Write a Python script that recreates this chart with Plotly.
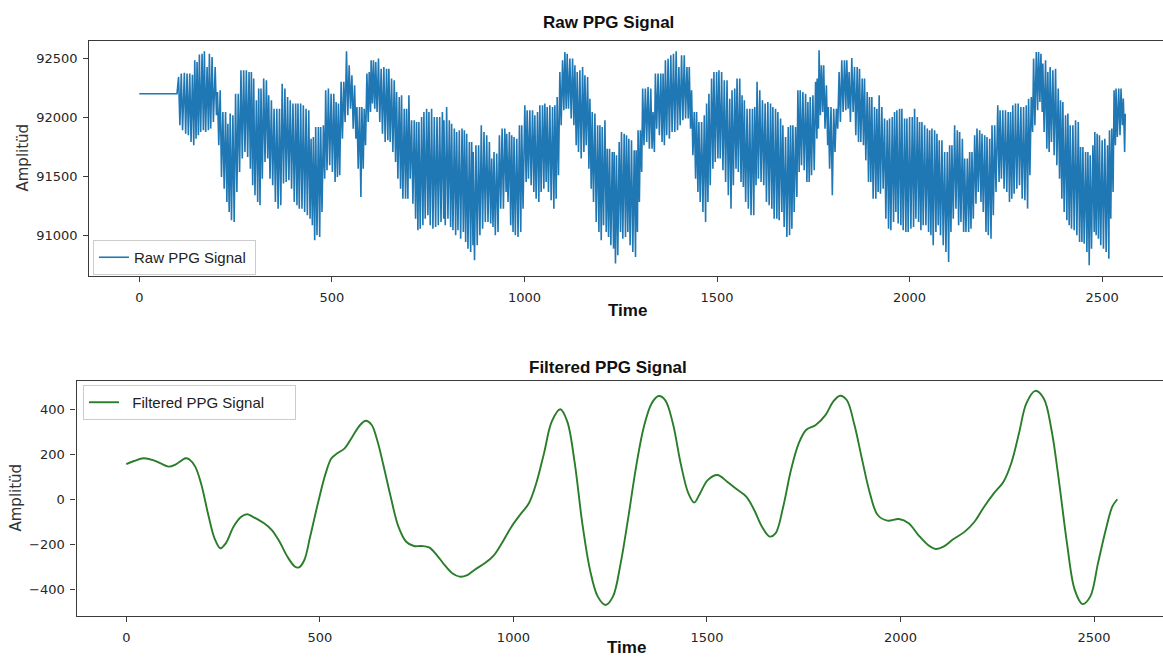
import plotly.graph_objects as go

# ---------------- data ----------------
# Raw PPG: flat start, then one entry per oscillation (time, crest, trough)
raw_flat_time = [0, 98]
raw_flat_value = [92200, 92200]

raw_peak_time = [
    102,109,117,124,131,138,144,150,156,163,169,176,182,189,197,203,210,217,224,230,
    236,243,250,257,264,271,278,285,291,297,304,310,316,323,330,336,343,350,357,364,
    371,378,385,392,399,406,412,419,426,433,440,
    446,452,458,465,471,478,484,491,498,505,511,517,524,531,538,545,552,559,565,572,
    578,584,591,597,602,608,614,621,628,635,642,648,655,662,668,675,681,688,694,700,
    707,714,720,726,733,739,746,752,759,766,773,780,787,
    791,798,805,811,818,824,831,838,844,850,857,863,867,874,881,888,895,902,909,915,
    921,928,935,942,949,954,961,967,973,980,987,993,1001,1007,1014,1021,1027,1034,1040,1047,
    1053,1059,1066,1073,1079,1085,1092,1099,1105,1111,1118,1125,1131,1137,
    1144,1151,1157,1164,1170,1176,1183,1190,1196,1202,1209,1215,1221,1228,1233,1239,1246,1252,1259,1265,
    1271,1278,1285,1290,1295,1301,1307,1314,1321,1328,1334,1340,1347,1354,1360,1366,1373,1380,1387,1394,
    1401,1408,1415,1422,1428,1434,1441,1447,1453,1460,1467,1473,1479,1486,1492,
    1499,1505,1512,1519,1526,1533,1539,1546,1552,1559,1565,1571,1578,1585,1592,1598,1604,1611,1618,1625,
    1632,1639,1645,1652,1658,1665,1671,1678,1685,1691,1697,1704,1710,1716,1723,1730,1736,1742,1749,1756,
    1760,1765,1771,1777,1784,1789,1796,1803,1810,1817,1824,1831,1837,1843,
    1850,1857,1864,1870,1877,1883,1890,1896,1902,1909,1915,1921,1928,1935,1942,1948,1955,1961,1967,1974,
    1980,1987,1993,2000,2007,2013,2020,2026,2032,2039,2046,2052,2058,2065,2071,2077,2084,2091,2098,2104,
    2110,2117,2124,2130,2137,2143,2150,2156,2162,2169,2175,2182,2188,
    2195,2201,2208,2214,2221,2229,2235,2242,2249,2256,2262,2268,2275,2282,2289,2296,2303,2309,2316,2322,
    2329,2335,2341,2346,2353,2359,2365,2372,2379,2386,2392,2398,2405,2411,2417,2424,2431,2438,2444,2450,
    2457,2463,2469,2476,2481,2487,2493,2500,2507,2514,2519,2525,2531,2536,2543,2549,2555,
]
raw_peak = [
    92342,92370,92378,92370,92370,92361,92483,92469,92531,92539,92559,92426,92539,92511,92426,92215,92229,92045,92045,91946,
    92031,92017,92200,92200,92398,92398,92398,92384,92384,92328,92144,92243,92243,92328,92313,92186,92144,92073,92073,92073,
    92285,92243,92172,92144,92116,92116,92116,92116,92102,92073,92059,
    91819,91833,91918,91918,91918,91932,92229,92243,92200,92200,92130,92116,92300,92300,92559,92441,92356,92271,92087,92087,
    92087,92073,92370,92384,92483,92483,92469,92497,92412,92426,92412,92412,92328,92313,92215,92172,92186,92073,92073,92186,
    91974,91974,91960,91960,92003,92045,92073,92045,92073,92003,92003,92003,92045,
    91974,92087,91974,91946,91904,91876,91890,91904,91890,91861,91791,91791,91706,91763,91763,91932,91876,91847,91791,91650,
    91706,91692,91847,91904,91904,91861,91876,91847,91833,91819,91932,91932,92102,92059,92059,92059,92017,92045,92102,92102,
    92116,92087,92102,92087,92102,92172,92384,92483,92554,92539,92497,92497,92441,92384,
    92398,92426,92356,92342,92158,92045,92031,91932,91932,91918,91974,91734,91734,91706,91706,91678,91791,91876,91861,91847,
    91819,91805,91720,91720,91890,91890,92243,92243,92257,92243,92045,92370,92370,92370,92370,92483,92497,92525,92539,92559,
    92426,92525,92525,92426,92426,92229,92045,92045,91960,91960,92017,92116,92200,92328,92384,
    92384,92398,92384,92313,92313,92158,92229,92243,92328,92328,92186,92144,92073,92073,92073,92087,92300,92229,92144,92116,
    92130,92116,92087,92073,92045,91989,91932,91833,91918,91932,91932,91918,92229,92229,92215,92200,92130,92172,92186,92300,
    92328,92568,92441,92441,92271,92087,92087,92073,92073,92384,92483,92483,92483,92384,
    92503,92426,92426,92412,92328,92328,92215,92172,92172,92087,92073,92186,92087,91989,91974,91989,92003,92045,92059,92073,
    92073,91989,91989,92003,92003,92073,92003,91960,91960,91932,91904,91890,91904,91890,91861,91805,91805,91706,91706,91763,
    91763,91932,91890,91876,91819,91650,91650,91706,91706,91847,91904,91890,91861,
    91847,91833,91819,91932,91932,92102,92059,92059,92059,92045,92045,92102,92116,92116,92087,92087,92102,92158,92172,92497,
    92554,92554,92539,92455,92483,92384,92426,92398,92412,92243,92144,92130,92017,92031,91932,91932,91974,91960,91748,91748,
    91706,91706,91678,91763,91876,91861,91847,91805,91819,91763,91890,91904,92229,92243,92243,92243,92158,
]
raw_trough = [
    91932,91890,91861,91847,91791,91763,91819,91847,91876,91890,91876,91890,91904,91960,92017,91763,91494,91395,91282,91198,
    91127,91113,91367,91537,91650,91706,91664,91565,91424,91339,91282,91254,91480,91621,91650,91480,91424,91282,91226,91254,
    91438,91452,91466,91395,91282,91254,91226,91226,91198,91169,91141,
    91085,90957,91000,90986,91198,91480,91551,91593,91537,91452,91494,91508,91819,91960,92017,92073,91904,91819,91565,91325,
    91565,91763,91960,92045,92116,92073,92045,91960,91861,91791,91805,91791,91706,91621,91480,91395,91310,91310,91310,91480,
    91268,91141,91042,91056,91085,91141,91169,91085,91056,91070,91085,91113,91141,
    91085,91141,91070,91042,91000,91042,90971,91028,90943,90887,90859,90915,90788,90915,91000,91056,91113,91113,91099,91070,
    91000,91028,91226,91226,91367,91282,91085,91028,91000,90986,91028,91226,91452,91480,91424,91367,91310,91282,91367,91395,
    91452,91367,91296,91226,91310,91508,91932,92059,92073,92073,91989,91932,91763,91706,
    91650,91706,91763,91565,91395,91282,91113,91028,90957,91085,91028,90986,90915,90887,90760,90830,91028,90971,90986,91028,
    90915,90859,90816,91028,91282,91537,91763,91791,91734,91734,91706,91904,91847,91791,91763,91847,91819,91876,91876,91890,
    91932,91974,91989,91989,91904,91678,91480,91367,91282,91198,91113,91282,91424,91565,91621,
    91650,91650,91551,91452,91339,91226,91424,91565,91537,91452,91409,91282,91226,91169,91169,91424,91480,91452,91424,91282,
    91254,91226,91141,91141,91127,91198,91070,90986,91000,91056,91198,91325,91537,91593,91551,91452,91452,91508,91551,91819,
    91904,92017,92045,91904,91763,91565,91339,91706,91904,91960,92045,92059,92073,91960,
    92045,91847,91791,91791,91763,91635,91452,91452,91310,91310,91367,91353,91395,91141,91056,91042,91113,91198,91099,91085,
    91042,91028,91028,91056,91070,91141,91113,91042,91085,91085,91028,91000,90915,91028,91085,91000,90915,90859,90774,91028,
    91141,91226,91085,91113,91028,91028,91028,91056,91141,91268,91367,91282,91198,
    91028,91000,90971,91169,91367,91452,91480,91395,91367,91282,91310,91353,91395,91424,91310,91296,91226,91508,91876,91932,
    92059,92130,92045,91876,91734,91706,91791,91678,91593,91480,91310,91198,91127,91085,91056,91042,91000,90943,90943,90929,
    90859,90746,90887,91028,91000,90971,90915,90887,90859,90802,91141,91367,91763,91833,91847,91932,91706,
]
raw_end_time = 2560
raw_end_value = 92031

# Filtered PPG (smooth curve)
filt_time = [0,20,45,69,89,109,129,153,163,178,193,213,228,243,257,277,297,312,327,356,376,396,416,436,446,460,475,495,
             515,530,545,564,584,604,619,634,648,663,683,703,723,743,762,782,802,822,842,861,881,901,926,950,970,995,
             1020,1040,1059,1079,1099,1121,1139,1158,1178,1198,1218,1238,1257,1277,1297,1317,1337,1357,1375,1392,1412,
             1432,1452,1467,1482,1502,1527,1552,1577,1602,1622,1642,1662,1677,1697,1717,1737,1756,1781,1806,1826,1844,
             1861,1881,1901,1921,1941,1966,1996,2021,2046,2071,2091,2111,2136,2166,2191,2216,2241,2266,2286,2306,2325,
             2348,2370,2390,2410,2430,2450,2470,2490,2510,2530,2547,2560]
filt_value = [155,169,181,173,158,144,155,181,176,144,70,-79,-175,-219,-197,-123,-79,-68,-79,-108,-138,-190,-256,-301,
              -304,-271,-167,-19,114,181,203,225,277,329,348,329,262,159,10,-123,-190,-209,-209,-215,-249,-293,-330,-345,
              -338,-313,-286,-249,-197,-123,-64,-19,70,203,344,399,345,165,-108,-316,-434,-471,-434,-286,-79,144,321,425,
              458,440,336,159,25,-16,25,84,107,77,43,10,-49,-123,-167,-153,-34,129,247,307,329,373,433,459,440,329,173,25,
              -71,-96,-89,-108,-160,-204,-222,-212,-179,-145,-101,-34,25,77,159,292,425,481,447,307,70,-197,-404,-467,-434,
              -286,-138,-34,-1]

x_ticks = [0, 500, 1000, 1500, 2000, 2500]
raw_y_ticks = [91000, 91500, 92000, 92500]
filt_y_ticks = [-400, -200, 0, 200, 400]

# ---------------- build the zig-zag raw trace ----------------
raw_x = list(raw_flat_time)
raw_y = list(raw_flat_value)
for t, hi, lo in zip(raw_peak_time, raw_peak, raw_trough):
    raw_x += [t, t + 3.4]
    raw_y += [hi, lo]
raw_x.append(raw_end_time)
raw_y.append(raw_end_value)

W, H = 1163, 657
def px(x):
    return x / W
def py(y):
    return 1 - y / H

TICK_FONT = dict(family="DejaVu Sans", size=13, color="#262626")
FRAME = "#3a3a3a"
NB = "\u00a0"

fig = go.Figure()
fig.add_trace(go.Scatter(x=raw_x, y=raw_y, mode="lines", name="Raw PPG Signal" + NB,
                         line=dict(color="#1f77b4", width=1.6), xaxis="x", yaxis="y",
                         legend="legend"))
fig.add_trace(go.Scatter(x=filt_time, y=filt_value, mode="lines",
                         name=NB * 2 + "Filtered PPG Signal" + NB * 6,
                         line=dict(color="#2a7d2a", width=1.9, shape="spline", smoothing=1.0),
                         xaxis="x2", yaxis="y2", legend="legend2"))

axis_common = dict(showline=True, linecolor=FRAME, linewidth=1.2, ticks="outside",
                   ticklen=5, tickcolor=FRAME, tickwidth=1.1, showgrid=False, zeroline=False,
                   tickfont=TICK_FONT)

fig.update_layout(
    width=W, height=H, autosize=False,
    margin=dict(l=0, r=0, t=0, b=0),
    paper_bgcolor="white", plot_bgcolor="white",
    showlegend=True,
    xaxis=dict(domain=[px(89.3), 1], range=[-129.8, 2658], anchor="y", mirror=True,
               tickvals=x_ticks, ticktext=[str(v) for v in x_ticks], ticklabelstandoff=4,
               **axis_common),
    yaxis=dict(domain=[py(276), py(40.7)], range=[90655, 92649], anchor="x",
               tickvals=raw_y_ticks, ticktext=[str(v) for v in raw_y_ticks], ticklabelstandoff=3,
               **axis_common),
    xaxis2=dict(domain=[px(76.5), 1], range=[-128.6, 2678], anchor="y2", mirror=True,
                tickvals=x_ticks, ticktext=[str(v) for v in x_ticks], ticklabelstandoff=4,
                **axis_common),
    yaxis2=dict(domain=[py(616), py(380.7)], range=[-520, 526], anchor="x2",
                tickvals=filt_y_ticks,
                ticktext=[("\u2212" + str(-v)) if v < 0 else str(v) for v in filt_y_ticks],
                ticklabelstandoff=3, **axis_common),
    legend=dict(x=px(93), y=py(240), xanchor="left", yanchor="top",
                bgcolor="rgba(255,255,255,0.85)", bordercolor="#cccccc", borderwidth=1,
                font=dict(family="Liberation Sans", size=15, color="#222222")),
    legend2=dict(x=px(83), y=py(385), xanchor="left", yanchor="top",
                 bgcolor="rgba(255,255,255,0.85)", bordercolor="#cccccc", borderwidth=1,
                 font=dict(family="Liberation Sans", size=15, color="#222222")),
)

title_font = dict(family="Liberation Sans", size=17, color="#111111")
ann = [
    dict(text="<b>Raw PPG Signal</b>", x=px(608), y=py(23)),
    dict(text="<b>Filtered PPG Signal</b>", x=px(608), y=py(367)),
    dict(text="<b>Time</b>", x=px(627), y=py(310)),
    dict(text="<b>Time</b>", x=px(626), y=py(647)),
]
for a in ann:
    fig.add_annotation(xref="paper", yref="paper", showarrow=False, xanchor="center",
                       yanchor="middle", font=title_font, **a)
for (x, y) in [(22.5, 158), (15.5, 498)]:
    fig.add_annotation(text="Amplitüd", xref="paper", yref="paper", x=px(x), y=py(y),
                       showarrow=False, textangle=-90, xanchor="center", yanchor="middle",
                       font=dict(family="DejaVu Sans", size=15, color="#333333"))

fig.write_html("out.html", config={"displayModeBar": False},
               post_script="document.body.style.margin='0';document.body.style.overflow='hidden';")
